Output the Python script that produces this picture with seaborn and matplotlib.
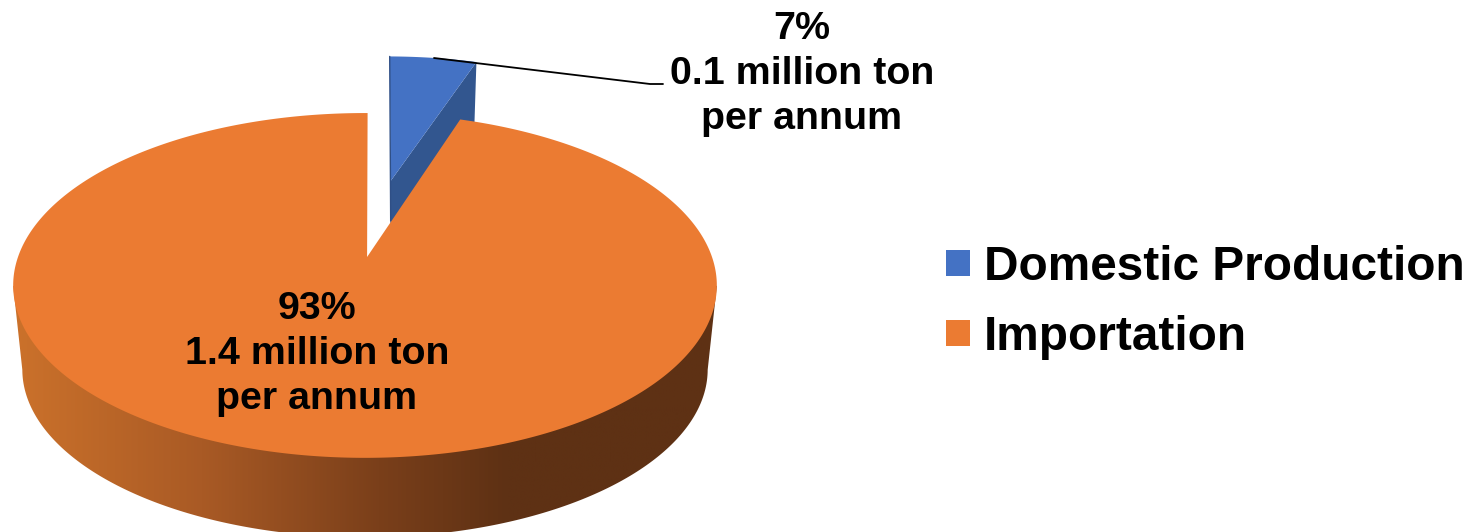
import numpy as np
import matplotlib
matplotlib.use("Agg")
import matplotlib.pyplot as plt
import seaborn as sns
from matplotlib.colors import LinearSegmentedColormap
from matplotlib.patches import Patch, Polygon

# data
categories = ["Domestic Production", "Importation"]
# slice sizes as actually drawn (the blue one looks about 5% wide, its label says 7%)
drawn_shares = [5, 95]
percent_labels = ["7%", "93%"]
amount_labels = ["0.1 million ton", "1.4 million ton"]
unit_label = "per annum"

sns.set_theme(style="white")
plt.rcParams["font.family"] = ["Liberation Sans", "DejaVu Sans"]
colors = ["#4472C4", "#EB7B32"]
blue_side = "#32568F"
side_cmap = LinearSegmentedColormap.from_list(
    "side", [(0, "#CC722B"), (0.27, "#A95A25"), (0.52, "#7A3F1A"), (0.7, "#5E3114"), (1, "#5E3114")]
)

# tilted pie: unit circle -> picture pixels with a bit of perspective
CX, SX = 365, 347
K, A, B = 0.165, -125.3, 257
DEPTH, SHRINK = 84, 0.974
START = 0.5
EXPLODE = (0.08, 0.49)


def project(u, v, lower=False):
    x = CX + SX * u / (1 + K * v)
    y = (A * v + B) / (1 + K * v)
    if lower:
        x = CX + (x - CX) * SHRINK
        y = 286 + (y - 286) * SHRINK + DEPTH
    return x, y


def arc(a1, a2, n=300):
    # angles clockwise from the top of the pie
    t = np.radians(np.linspace(a1, a2, n))
    return np.sin(t), np.cos(t)


fig = plt.figure(figsize=(14.77, 5.32), dpi=100)
ax = fig.add_axes([0, 0, 1, 1])

# side wall
u, v = arc(0, 360, 720)
tx, ty = project(u, v)
bx, by = project(u, v, lower=True)
tl, tr = np.argmin(tx), np.argmax(tx)
bl, br = np.argmin(bx), np.argmax(bx)
# clockwise from the top: right extreme, front, left extreme
front = np.arange(br, bl + 1)
hull = np.vstack([
    [[tx[tr], ty[tr]]],
    np.column_stack([bx[front], by[front]]),
    [[tx[tl], ty[tl]]],
])
grad = np.linspace(0, 1, 256).reshape(1, -1)
img = ax.imshow(grad, extent=[10, 720, 540, 280], aspect="auto", cmap=side_cmap, zorder=1)
clip = Polygon(hull, closed=True, transform=ax.transData, facecolor="none", edgecolor="none")
ax.add_patch(clip)
img.set_clip_path(clip)

# blue slice, pulled out
blue_deg = drawn_shares[0] / sum(drawn_shares) * 360
u, v = arc(START, START + blue_deg)
u, v = u + EXPLODE[0], v + EXPLODE[1]
ax_x, ax_y = project(np.array([EXPLODE[0]]), np.array([EXPLODE[1]]))
x, y = project(u, v)
low_ax_x, low_ax_y = project(np.array([EXPLODE[0]]), np.array([EXPLODE[1]]), lower=True)
low_x, low_y = project(u[-1:], v[-1:], lower=True)
ax.fill([ax_x[0], x[-1], low_x[0], low_ax_x[0]], [ax_y[0], y[-1], low_y[0], low_ax_y[0]],
        color=blue_side, lw=0, zorder=2)
ax.fill(np.r_[ax_x, x], np.r_[ax_y, y], color=colors[0], lw=0, zorder=3)
ax.plot([ax_x[0], x[0]], [ax_y[0] + 40, y[0]], color="#2F4F86", lw=1, zorder=3)

# orange slice
u, v = arc(START + blue_deg, START + 360, 800)
x, y = project(u, v)
ax_x, ax_y = project(np.array([0.006]), np.array([0.0]))
ax.fill(np.r_[ax_x, x], np.r_[ax_y, y], color=colors[1], lw=0, zorder=4)

# labels
ax.text(802, 74, percent_labels[0] + "\n" + amount_labels[0] + "\n" + unit_label,
        ha="center", va="center", fontsize=28.4, fontweight="bold", color="black",
        linespacing=1.32, zorder=6)
ax.text(317, 354, percent_labels[1] + "\n" + amount_labels[1] + "\n" + unit_label,
        ha="center", va="center", fontsize=28.4, fontweight="bold", color="black",
        linespacing=1.32, zorder=6)
ax.plot([434, 650, 663], [58, 84, 84], color="black", lw=1.3, zorder=5)

# legend
handles = [Patch(facecolor=c, edgecolor="none") for c in colors]
ax.legend(handles, categories, loc="upper left", bbox_to_anchor=(946, 245),
          bbox_transform=ax.transData, frameon=False, labelcolor="black",
          prop={"weight": "bold", "size": 34.4}, handlelength=0.5, handleheight=0.45,
          handletextpad=0.29, labelspacing=0.53, borderaxespad=0, borderpad=0)

ax.set_xlim(0, 1477)
ax.set_ylim(532, 0)
ax.axis("off")
fig.savefig("out.png", dpi=100)
